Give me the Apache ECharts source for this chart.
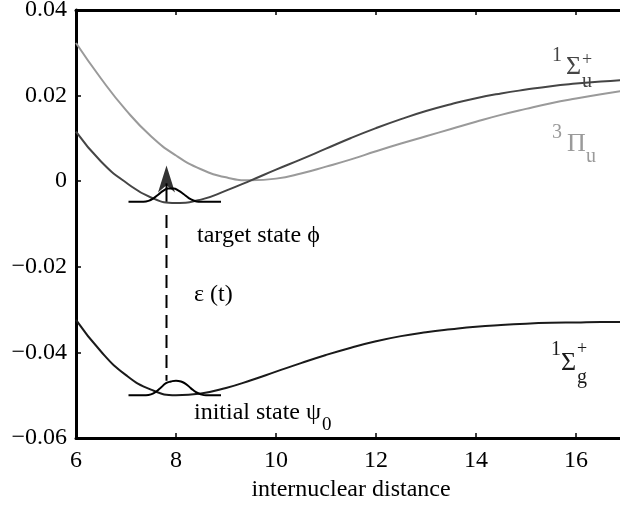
<!DOCTYPE html>
<html>
<head>
<meta charset="utf-8">
<script src="https://cdn.jsdelivr.net/npm/echarts@6/dist/echarts.min.js"></script>
<style>
html,body{margin:0;padding:0;background:#fff;}
#chart{width:620px;height:507px;}
</style>
</head>
<body>
<div id="chart"></div>
<script>
// ---- data ----
const xs = [6, 6.5, 7, 7.5, 8, 8.5, 9, 9.5, 10, 10.5, 11, 11.5, 12, 12.5, 13, 13.5, 14, 14.5, 15, 15.5, 16, 16.5, 17];
const groundSigmaG = [-0.0324, -0.0398, -0.0453, -0.0487, -0.0500, -0.0496, -0.0483, -0.0465, -0.0445, -0.0425, -0.0406, -0.0389, -0.0374, -0.0362, -0.0353, -0.0346, -0.0340, -0.0336, -0.0333, -0.0331, -0.0330, -0.0329, -0.0329];
const excitedSigmaU = [0.0116, 0.0046, -0.0003, -0.0038, -0.0051, -0.0043, -0.0022, 0.0002, 0.0027, 0.0051, 0.0076, 0.0101, 0.0124, 0.0145, 0.0164, 0.0180, 0.0194, 0.0205, 0.0214, 0.0222, 0.0228, 0.0233, 0.0237];
const tripletPiU = [0.0323, 0.0240, 0.0166, 0.0105, 0.0060, 0.0028, 0.0009, 0.0002, 0.0006, 0.0018, 0.0034, 0.0051, 0.0070, 0.0088, 0.0105, 0.0122, 0.0139, 0.0155, 0.0169, 0.0182, 0.0193, 0.0203, 0.0212];

const initPacketX = [7.05, 7.4, 7.5, 7.6, 7.7, 7.8, 7.9, 8.0, 8.1, 8.2, 8.3, 8.4, 8.5, 8.6, 8.9];
const initPacketY = [-0.0500, -0.0500, -0.0498, -0.0492, -0.0482, -0.0472, -0.0468, -0.0466, -0.0468, -0.0474, -0.0484, -0.0493, -0.0498, -0.0500, -0.0500];
const targetPacketX = [7.05, 7.35, 7.45, 7.55, 7.65, 7.75, 7.85, 7.95, 8.05, 8.15, 8.25, 8.35, 8.45, 8.9];
const targetPacketY = [-0.0048, -0.0048, -0.0046, -0.0040, -0.0031, -0.0022, -0.0017, -0.0017, -0.0022, -0.0030, -0.0039, -0.0045, -0.0048, -0.0048];

const pulseX = 7.81;
const pulseDashY = [-0.0079, -0.0466];
const pulseShaftY = [-0.0048, -0.0005];
const arrowHeadY = 0.0005;

const xTicks = [6, 8, 10, 12, 14, 16];
const yTicks = [-0.06, -0.04, -0.02, 0, 0.02, 0.04];
const yTickLabels = ['\u22120.06', '\u22120.04', '\u22120.02', '0', '0.02', '0.04'];

// ---- chart ----
const zip = (a, b) => a.map((v, i) => [v, b[i]]);
const chart = echarts.init(document.getElementById('chart'), null, {renderer: 'canvas'});
const FONT = '"Liberation Serif", "Times New Roman", Times, serif';

function yLabel(v) {
  for (let i = 0; i < yTicks.length; i++) if (Math.abs(yTicks[i] - v) < 1e-9) return yTickLabels[i];
  return '';
}

const option = {
  animation: false,
  backgroundColor: '#fff',
  grid: {left: 76, top: 10, width: 550, height: 428, containLabel: false, outerBoundsMode: 'none'},
  xAxis: [{
    type: 'value', min: xTicks[0], max: 17, interval: 2, position: 'bottom',
    axisLine: {show: true, onZero: false, lineStyle: {color: '#000', width: 3}},
    axisTick: {show: true, inside: true, length: 5, lineStyle: {color: '#000', width: 1.5}},
    axisLabel: {show: true, showMaxLabel: false, margin: 11, color: '#000', fontFamily: FONT, fontSize: 24},
    splitLine: {show: false},
    name: 'internuclear distance', nameLocation: 'middle', nameGap: 38,
    nameTextStyle: {color: '#000', fontFamily: FONT, fontSize: 24}
  }, {
    type: 'value', min: xTicks[0], max: 17, interval: 2, position: 'top',
    axisLine: {show: true, onZero: false, lineStyle: {color: '#000', width: 3}},
    axisTick: {show: true, inside: true, length: 5, lineStyle: {color: '#000', width: 1.5}},
    axisLabel: {show: false}, splitLine: {show: false}
  }],
  yAxis: [{
    type: 'value', min: -0.06, max: 0.04, interval: 0.02, position: 'left',
    axisLine: {show: true, onZero: false, lineStyle: {color: '#000', width: 3}},
    axisTick: {show: true, inside: true, length: 5, lineStyle: {color: '#000', width: 1.5}},
    axisLabel: {show: true, margin: 9, color: '#000', fontFamily: FONT, fontSize: 24, formatter: yLabel},
    splitLine: {show: false}
  }],
  series: [
    {type: 'line', data: zip(xs, tripletPiU), smooth: true, showSymbol: false, lineStyle: {color: '#9a9a9a', width: 2}, z: 2},
    {type: 'line', data: zip(xs, excitedSigmaU), smooth: true, showSymbol: false, lineStyle: {color: '#454545', width: 2}, z: 3},
    {type: 'line', data: zip(xs, groundSigmaG), smooth: true, showSymbol: false, lineStyle: {color: '#1a1a1a', width: 2}, z: 3},
    {type: 'line', data: zip(initPacketX, initPacketY), smooth: true, showSymbol: false, lineStyle: {color: '#000', width: 2}, z: 4},
    {type: 'line', data: zip(targetPacketX, targetPacketY), smooth: true, showSymbol: false, lineStyle: {color: '#000', width: 2}, z: 4},
    {type: 'line', data: pulseDashY.map(y => [pulseX, y]), showSymbol: false, lineStyle: {color: '#000', width: 2, type: [13, 7]}, z: 4},
    {type: 'line', data: pulseShaftY.map(y => [pulseX, y]), showSymbol: false, lineStyle: {color: '#000', width: 2}, z: 4},
    {type: 'scatter', data: [[pulseX, arrowHeadY]], symbol: 'path://M0,0 L8,26 L0,19 L-8,26 Z', symbolKeepAspect: false, symbolSize: [17, 27], itemStyle: {color: '#000'}, z: 5}
  ]
};
chart.setOption(option);

const measureCtx = document.createElement('canvas').getContext('2d');
function textW(text, size) { measureCtx.font = size + 'px ' + FONT; return measureCtx.measureText(text).width; }
function t(text, x, y, size, color) {
  return {type: 'text', x: x, y: y, silent: true,
    style: {text: text, x: 0, y: 0, fill: color || '#000', font: size + 'px ' + FONT,
      align: 'left', verticalAlign: 'middle', textAlign: 'left', textVerticalAlign: 'middle'}};
}
const initTxt = 'initial state \u03C8';
const initW = textW(initTxt, 24);
chart.setOption({graphic: [
  t('target state \u03D5', 197, 236, 24),
  t('\u03B5 (t)', 194, 295, 24),
  t(initTxt, 194, 413, 24),
  t('0', 194 + initW + 1, 425, 19),
  // 1 Sigma_u^+
  t('1', 552, 56, 20, '#454545'),
  t('\u03A3', 566, 67, 26, '#454545'),
  t('+', 582, 60, 18, '#454545'),
  t('u', 582, 82, 20, '#454545'),
  // 3 Pi_u
  t('3', 552, 133, 20, '#9a9a9a'),
  t('\u03A0', 567, 144, 26, '#9a9a9a'),
  t('u', 586, 157, 20, '#9a9a9a'),
  // 1 Sigma_g^+
  t('1', 551, 350, 20, '#1a1a1a'),
  t('\u03A3', 561, 363, 26, '#1a1a1a'),
  t('+', 577, 349, 18, '#1a1a1a'),
  t('g', 577, 378, 20, '#1a1a1a')
]});
</script>
</body>
</html>
